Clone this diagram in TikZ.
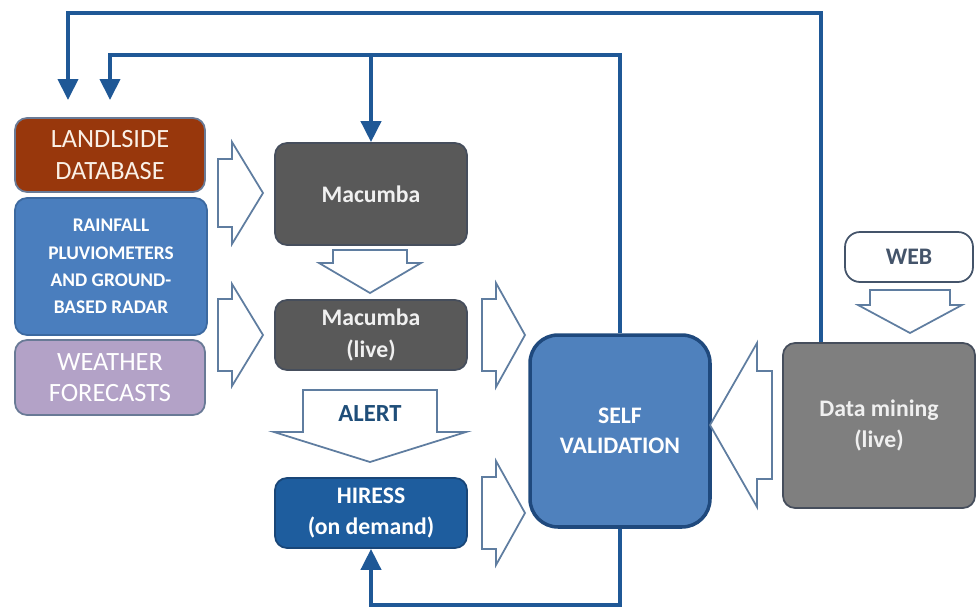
\documentclass[tikz,border=0pt]{standalone}
\usepackage{fontspec}
\setmainfont{Carlito}
\usetikzlibrary{arrows.meta}
\definecolor{landred}{RGB}{152,55,12}
\definecolor{rainblue}{RGB}{74,126,190}
\definecolor{rainline}{RGB}{60,105,160}
\definecolor{lilac}{RGB}{179,162,199}
\definecolor{boxline}{RGB}{105,122,150}
\definecolor{macgrey}{RGB}{89,89,89}
\definecolor{macline}{RGB}{70,78,92}
\definecolor{dmgrey}{RGB}{127,127,127}
\definecolor{hiblue}{RGB}{30,93,158}
\definecolor{hiline}{RGB}{25,70,120}
\definecolor{svblue}{RGB}{79,129,189}
\definecolor{svline}{RGB}{31,73,125}
\definecolor{fbblue}{RGB}{31,88,150}
\definecolor{arrowline}{RGB}{95,125,160}
\definecolor{alertblue}{RGB}{31,78,121}
\definecolor{webtext}{RGB}{68,84,106}
\definecolor{cream}{RGB}{250,240,230}
\definecolor{textgrey}{RGB}{240,240,240}
\begin{document}
\begin{tikzpicture}[
			x=0.02cm, y=-0.02cm,
			box/.style={rounded corners=0.24cm, draw=boxline, line width=1pt, align=center, inner sep=0, text=white},
			grey/.style={box, fill=macgrey, draw=macline, text=textgrey, minimum width=3.84cm, font=\bfseries\fontsize{13.5}{18}\selectfont},
			feedback/.style={draw=fbblue, line width=2.3pt},
			fbarrow/.style={feedback, -{Triangle[width=0.4cm, length=0.42cm]}},
			blockarrow/.style={draw=arrowline, line width=1pt, fill=white, line join=miter},
			pics/bigarrow/.style args={#1/#2/#3/#4}{code={
				\draw[blockarrow] (-#1,-#3) -- (-#2,-#3) -- (-#2,-#4) -- (0,0) -- (-#2,#4) -- (-#2,#3) -- (-#1,#3) -- cycle;
			}},
		]
		\useasboundingbox (0,0) rectangle (976,609);
		\node[box, fill=landred, text=cream, minimum width=3.8cm, minimum height=1.48cm, font=\fontsize{15}{18}\selectfont] (land) at (110,155) {LANDLSIDE\\DATABASE};
		\node[box, fill=rainblue, draw=rainline, minimum width=3.84cm, minimum height=2.74cm, font=\bfseries\fontsize{11}{15.5}\selectfont] (rain) at (111,266.5) {RAINFALL\\PLUVIOMETERS\\AND GROUND-\\BASED RADAR};
		\node[box, fill=lilac, minimum width=3.8cm, minimum height=1.5cm, font=\fontsize{15}{18}\selectfont] (weather) at (110,377.5) {WEATHER\\FORECASTS};
		\node[grey, minimum height=2.04cm] (mac) at (371,194) {Macumba};
		\node[grey, minimum height=1.4cm] (live) at (371,335) {Macumba\\(live)};
		\node[grey, fill=hiblue, draw=hiline, text=white, minimum height=1.4cm] (hiress) at (371,513) {HIRESS\\(on demand)};
		\node[box, fill=svblue, draw=svline, line width=2pt, rounded corners=0.56cm, minimum width=3.6cm, minimum height=3.84cm, font=\bfseries\fontsize{13.5}{17}\selectfont] (selfval) at (620,431) {SELF\\VALIDATION};
		\node[grey, fill=dmgrey, minimum height=3.3cm] (datamin) at (879,425.5) {Data mining\\(live)};
		\node[box, fill=white, draw=webtext, rounded corners=0.3cm, minimum width=2.56cm, minimum height=1cm, text=webtext, font=\bfseries\fontsize{13.5}{16}\selectfont] (web) at (909,257) {WEB};
		\pic (a1) at (263,193) {bigarrow=45/31/34/51};
		\pic (a2) at (263,335) {bigarrow=45/31/36/51};
		\pic[rotate=-90] (a3) at (370,293) {bigarrow=43/30/37/51};
		\pic[rotate=-90] (a4) at (370,462) {bigarrow=72/30/67/96};
		\node[text=alertblue, font=\bfseries\fontsize{14}{16}\selectfont] (alert) at (370,414) {ALERT};
		\pic (a5) at (525,335) {bigarrow=43/29/36/52};
		\pic (a6) at (525,513) {bigarrow=43/29/36/52};
		\pic[rotate=180] (a7) at (710,425) {bigarrow=62/47/54/82};
		\pic[rotate=-90] (a8) at (910,333) {bigarrow=43/28/40/52};
		\coordinate (outer) at (68,13);
		\coordinate (outertip) at (68,100);
		\coordinate (inner) at (110,55);
		\coordinate (innertip) at (110,100);
		\coordinate (low) at (620,605);
		\draw[fbarrow] ([shift={(39,0)}]datamin.north west) |- (outer) -- (outertip);
		\draw[fbarrow] (selfval.north) |- (inner) -- (innertip);
		\draw[fbarrow] (mac.north |- inner) -- (mac.north);
		\draw[fbarrow] (selfval.south) -- (low) -| (hiress.south);
\end{tikzpicture}
\end{document}
